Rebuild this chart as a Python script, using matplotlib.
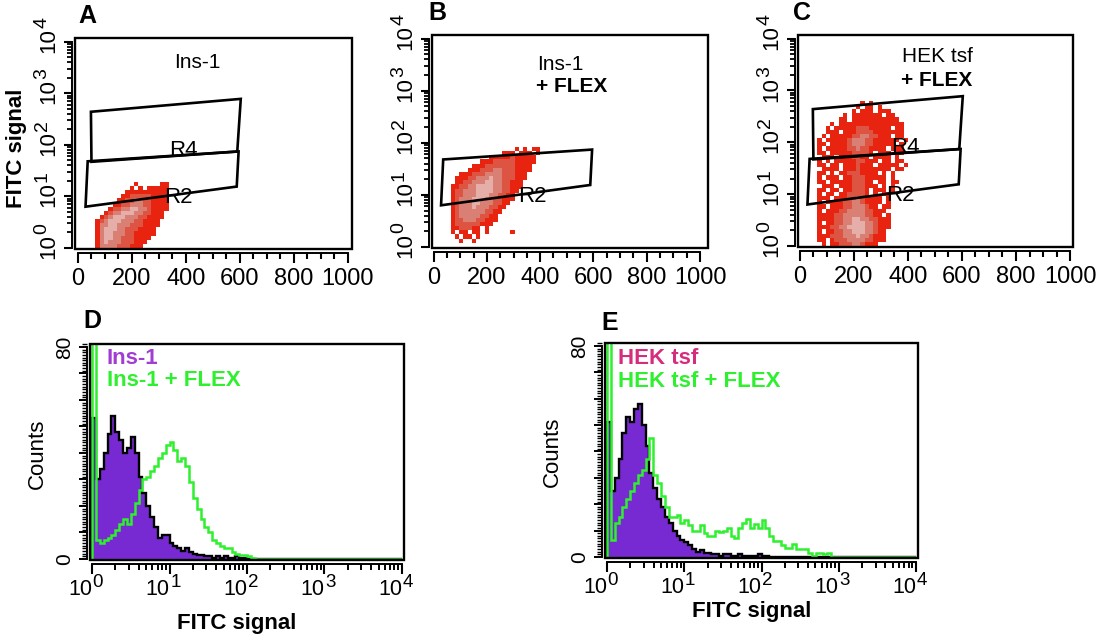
import numpy as np
import matplotlib
matplotlib.use("Agg")
import matplotlib.pyplot as plt
from matplotlib.colors import ListedColormap
from matplotlib.patches import Rectangle, Polygon
from matplotlib.ticker import LogLocator, MultipleLocator, NullFormatter

plt.rcParams["font.family"] = "Liberation Sans"
plt.rcParams["xtick.labelsize"] = 17
plt.rcParams["ytick.labelsize"] = 15

W, H = 1096, 641

COLOR_PURPLE = "#782ad2"
COLOR_GREEN = "#2ef02e"
COLOR_INS_LABEL = "#a23dd2"
COLOR_HEK_LABEL = "#d52d7c"
DOT_COLORS = ["#e8230f", "#dd5442", "#da7f74", "#e5aea9"]

# dot plots: density level per cell, top row first
# columns of 16 channels from channel 64, rows of 0.08 decades from 10^0
GRID_X0 = 64
GRID_DX = 16
GRID_DY = 0.08

dots_ins1 = [
    ".........1.....11.",
    "........1.1.11111.",
    ".......1111111111.",
    "......11222221111.",
    ".....112233221111.",
    "....1122333221111.",
    "...12233443321111.",
    "..12334443322111..",
    ".123444333221111..",
    "123444333221111...",
    "133443332221111...",
    "13444332221111....",
    "13443332211111....",
    "1344332221111.....",
    "134333222111......",
    "13333222111.......",
]

dots_ins1_flex = [
    "...............1.1.11.",
    "............111.111.1.",
    ".........11111211111..",
    ".......1112222211111..",
    ".....11122222221111...",
    "....111222332221111...",
    "..1112223333222111....",
    ".11122333433222111....",
    ".1122333443322111.....",
    "11223344443322111.....",
    "1223334444332211......",
    "122333444332211.......",
    "123334443322111.......",
    "12333443332211........",
    "1233343332211.........",
    "123333332211..........",
    "12333332211...........",
    "12233322111...........",
    "1222222111............",
    "1122211.1.............",
    "1.11.11.1.....1.......",
    ".1.11.1...............",
    "..1..1................",
    "......................",
]

dots_hek_flex = [
    "..........1.1.........",
    ".........1.11.1.......",
    "........1.111.111.....",
    "......1.1111111.11....",
    ".....11.11111111111...",
    "...1.111111111111111..",
    "..1.1111122211111.11..",
    "..111.11122221111111..",
    ".1.11111223322111.11..",
    "1.11111233322111111.1.",
    "11.111123332211111.1..",
    "1.11111223221111.111..",
    "11.1111122221.111.11..",
    ".111.1112211.1111.1...",
    "1.1.1111122111.11.11..",
    "11.11.1112111.11111.1.",
    ".1111.11121111111.11..",
    "11.1.112221111.1.1....",
    "1.111.1122211111.1....",
    "11.1111122211.11.11...",
    ".111.111222111.1.1....",
    "11.11.112221.111.1....",
    "1.11.1122221.1.11.....",
    "111.11122321111.1.....",
    "1.1111223321111.1.....",
    "11.11122333211.11.....",
    "1.11122333322111......",
    "111122333332211.1.....",
    "11112233443322111.....",
    "1.112233444332111.....",
    "11122334444332111.....",
    "1.11223344433211......",
    "1112223334332111......",
    "11.1222333322111......",
    ".1.11222332111........",
]

# gates (channel, log10 FITC)
r4_x = [48, 603, 590, 50]
r4_log = [2.64, 2.89, 1.87, 1.67]
r2_x = [36, 595, 588, 28]
r2_log = [1.68, 1.87, 1.19, 0.80]

# histograms, bins of 0.05 decades from 10^0
HIST_STEP = 0.05
ins1 = [53, 30, 34, 40, 47, 54, 48, 45, 40, 42, 46, 40, 31, 25, 20, 16, 12, 8,
        9, 9, 6, 5, 4, 3, 4, 2.5, 2, 1.5, 1.5, 1, 1, 0.5, 1, 0.5, 1, 0.5, 0.5,
        1, 0.5, 0.5]
ins1_flex = [200, 7, 6, 7, 8, 9, 11, 13, 15, 13, 17, 21, 26, 30, 31, 33, 35,
             38, 40, 43, 44, 41, 37, 38, 35, 29, 23, 19, 15, 12, 10, 7, 6, 5,
             4, 4, 2.5, 2, 1.5, 1.5, 1, 0.5]
hek = [51, 25, 30, 37, 47, 53, 51, 56, 58, 50, 42, 32, 26, 22, 19, 15, 13, 10,
       8, 6.5, 5.5, 4.5, 3, 2, 2.5, 1.5, 1.5, 1, 1, 0.5, 1, 1, 0.3, 0.3, 1,
       0.3, 0.3, 0.3, 0.3, 1, 0.3, 0.3]
hek_flex = [200, 6.5, 13, 15, 19, 22, 25, 28, 31, 33, 37, 45, 31, 28, 23, 19,
            15, 15, 16, 13, 14, 12, 10, 10, 12, 9, 8, 8, 10, 9.5, 10, 11, 8, 7,
            11, 13, 14.5, 11, 12.5, 11, 14, 11, 8, 6, 6, 4.5, 3.5, 3.5, 5, 3,
            3, 3, 1.5, 0.5, 1.5, 1.5, 1, 1.5]
N_BINS = 80
DECADES = [0, 1, 2, 3, 4]

fig = plt.figure(figsize=(W / 100, H / 100), dpi=100)


def add_axes(left, top, right, bottom):
    return fig.add_axes([left / W, 1 - bottom / H, (right - left) / W, (bottom - top) / H])


def fig_text(px, py, s, **kw):
    fig.text(px / W, 1 - py / H, s, ha="center", va="center", **kw)


def r_frame(ax, off_left=2.5, off_bottom=3):
    ax.spines["top"].set_visible(False)
    ax.spines["right"].set_visible(False)
    ax.spines["left"].set_position(("outward", off_left))
    ax.spines["bottom"].set_position(("outward", off_bottom))
    ax.spines["left"].set_linewidth(1.4)
    ax.spines["bottom"].set_linewidth(1.4)
    ax.add_patch(Rectangle((0, 0), 1, 1, transform=ax.transAxes, fill=False,
                           lw=1.7, ec="black", clip_on=False, zorder=6))


def y_decade_labels(ax):
    # "10" plus raised exponent, rotated like the y tick labels
    trans = ax.get_yaxis_transform()
    for d in DECADES:
        ax.annotate("10", xy=(0, 10 ** d), xycoords=trans, xytext=(-11, 1),
                    textcoords="offset points", rotation=90, ha="right",
                    va="center", fontsize=16, annotation_clip=False)
        ax.annotate(str(d), xy=(0, 10 ** d), xycoords=trans, xytext=(-17.5, 10),
                    textcoords="offset points", rotation=90, ha="right",
                    va="bottom", fontsize=14, annotation_clip=False)


def x_decade_labels(ax):
    trans = ax.get_xaxis_transform()
    for d in DECADES:
        ax.annotate("10", xy=(10 ** d, 0), xycoords=trans, xytext=(0, -14),
                    textcoords="offset points", ha="right", va="top",
                    fontsize=15.5, annotation_clip=False)
        ax.annotate(str(d), xy=(10 ** d, 0), xycoords=trans, xytext=(0.5, -10),
                    textcoords="offset points", ha="left", va="top",
                    fontsize=13.5, annotation_clip=False)


dot_cmap = ListedColormap(DOT_COLORS)


def dot_panel(box, rows, xlim, gates):
    ax = add_axes(*box)
    nx = max(len(r) for r in rows)
    lev = np.array([[".1234".index(c) for c in r.ljust(nx, ".")] for r in rows[::-1]])
    ny = lev.shape[0]
    xe = GRID_X0 + GRID_DX * np.arange(nx + 1)
    ye = 10 ** (GRID_DY * np.arange(ny + 1))
    ax.set_yscale("log")
    ax.pcolormesh(xe, ye, np.ma.masked_equal(lev, 0), cmap=dot_cmap,
                  vmin=0.5, vmax=4.5, shading="flat", antialiased=False)
    for gx, glog in gates:
        ax.add_patch(Polygon(np.column_stack([gx, 10 ** np.array(glog)]),
                             closed=True, fill=False, ec="black", lw=1.9, zorder=4))
    ax.set_xlim(*xlim)
    ax.set_ylim(10 ** -0.02, 10 ** 4.07)
    r_frame(ax, 2.5, 3)
    ax.spines["left"].set_bounds(1, 1e4)
    ax.spines["bottom"].set_bounds(0, 1000)
    ax.set_xticks(range(0, 1001, 200))
    ax.xaxis.set_minor_locator(MultipleLocator(50))
    ax.set_yticks([10 ** d for d in DECADES])
    ax.yaxis.set_minor_locator(LogLocator(base=10, subs=np.arange(2, 10), numticks=20))
    ax.yaxis.set_minor_formatter(NullFormatter())
    ax.tick_params(axis="x", which="major", length=7, width=1.5, labelsize=17, pad=4)
    ax.tick_params(axis="x", which="minor", length=4.5, width=1.5)
    ax.tick_params(axis="y", which="major", length=6, width=1.5, labelleft=False)
    ax.tick_params(axis="y", which="minor", length=3.5, width=1.3)
    y_decade_labels(ax)
    return ax


def hist_panel(box, filled, line, texts):
    ax = add_axes(*box)
    ax.set_xscale("log")
    f = filled + [0] * (N_BINS - len(filled))
    g = line + [0] * (N_BINS - len(line))
    edges = 10 ** (HIST_STEP * np.arange(N_BINS + 1))
    ax.stairs(f, edges, fill=True, color=COLOR_PURPLE, lw=0)
    ax.stairs(f, edges, color="black", lw=1.7)
    ax.stairs(g, edges, color=COLOR_GREEN, lw=1.8)
    ax.set_xlim(10 ** -0.026, 10 ** 4.026)
    ax.set_ylim(-0.4, 81.1)
    r_frame(ax, 2.5, 3)
    ax.spines["left"].set_bounds(0, 80)
    ax.spines["bottom"].set_bounds(1, 1e4)
    ax.set_xticks([10 ** d for d in DECADES])
    ax.xaxis.set_minor_locator(LogLocator(base=10, subs=np.arange(2, 10), numticks=20))
    ax.xaxis.set_minor_formatter(NullFormatter())
    ax.set_yticks(range(0, 81, 10))
    ax.set_yticklabels(["0"] + [""] * 7 + ["80"])
    ax.yaxis.set_minor_locator(MultipleLocator(1))
    ax.tick_params(axis="x", which="major", length=7, width=1.5, labelbottom=False)
    ax.tick_params(axis="x", which="minor", length=4.5, width=1.4)
    ax.tick_params(axis="y", which="major", length=6, width=1.4, pad=3,
                   labelsize=15, labelrotation=90)
    ax.tick_params(axis="y", which="minor", length=3.5, width=1.0)
    for lbl in ax.get_yticklabels():
        lbl.set_va("center")
    x_decade_labels(ax)
    for (s, c, xf, yf) in texts:
        ax.text(xf, yf, s, transform=ax.transAxes, color=c, fontsize=16,
                fontweight="bold", ha="left", va="center")
    return ax


gates_ab = [(r4_x, r4_log), (r2_x, r2_log)]
ax_a = dot_panel((75, 38, 352, 249), dots_ins1, (-11, 1015), gates_ab)
ax_b = dot_panel((432, 35, 708, 248), dots_ins1_flex, (-6, 1030), [(r2_x, r2_log)])
ax_c = dot_panel((798, 35, 1073, 247), dots_hek_flex, (-7, 1011), gates_ab)

for ax in (ax_a, ax_c):
    ax.text(390, 10 ** 1.89, "R4", fontsize=16, ha="center", va="center", zorder=5)
for ax in (ax_a, ax_b, ax_c):
    ax.text(372, 10 ** 0.97, "R2", fontsize=16, ha="center", va="center", zorder=5)

hist_panel((90, 344, 404, 560), ins1, ins1_flex,
           [("Ins-1", COLOR_INS_LABEL, 0.054, 0.935),
            ("Ins-1 + FLEX", COLOR_GREEN, 0.054, 0.833)])
hist_panel((605, 343, 918, 558), hek, hek_flex,
           [("HEK tsf", COLOR_HEK_LABEL, 0.042, 0.926),
            ("HEK tsf + FLEX", COLOR_GREEN, 0.042, 0.819)])

# panel letters and labels
for s, px, py in [("A", 87, 16), ("B", 437, 13), ("C", 802, 13), ("D", 92, 321), ("E", 610, 323)]:
    fig_text(px, py, s, fontsize=18, fontweight="bold")

fig_text(197, 63, "Ins-1", fontsize=15)
fig_text(560, 65, "Ins-1", fontsize=15)
fig_text(572, 87, "+ FLEX", fontsize=15, fontweight="bold")
fig_text(937, 57, "HEK tsf", fontsize=15)
fig_text(937, 80, "+ FLEX", fontsize=15, fontweight="bold")

fig_text(17, 148, "FITC signal", fontsize=16, fontweight="bold", rotation=90)
fig_text(37, 454, "Counts", fontsize=16, rotation=90)
fig_text(552, 452, "Counts", fontsize=16, rotation=90)
fig_text(237, 623, "FITC signal", fontsize=16, fontweight="bold")
fig_text(752, 611, "FITC signal", fontsize=16, fontweight="bold")

plt.savefig("out.png", dpi=100)
plt.close(fig)
